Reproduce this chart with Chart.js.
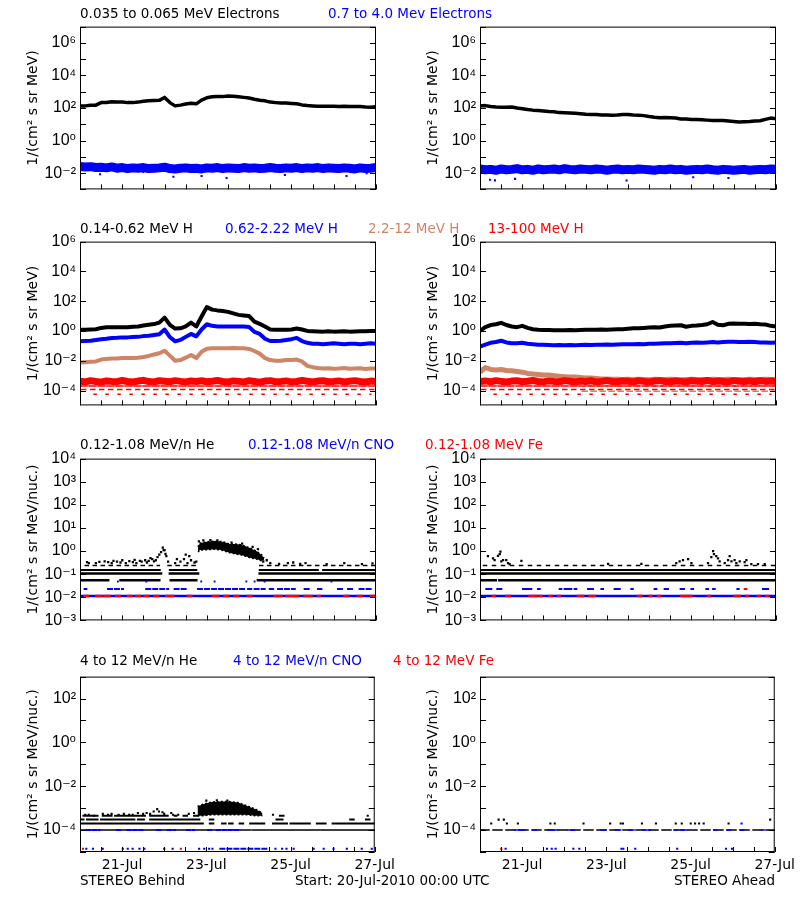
<!DOCTYPE html>
<html>
<head>
<meta charset="utf-8">
<script src="https://cdn.jsdelivr.net/npm/chart.js"></script>
<style>
html,body{margin:0;padding:0;background:#fff;}
body{width:800px;height:900px;position:relative;overflow:hidden;}
canvas.c{position:absolute;}
.t{position:absolute;white-space:pre;font-family:'DejaVu Sans',sans-serif;font-size:13.5px;line-height:15px;color:#000;}
</style>
</head>
<body>
<canvas id="r1L" class="c" width="400" height="190" style="left:0;top:13px"></canvas>
<canvas id="r1R" class="c" width="400" height="190" style="left:400px;top:13px"></canvas>
<canvas id="r2L" class="c" width="400" height="191" style="left:0;top:228px"></canvas>
<canvas id="r2R" class="c" width="400" height="191" style="left:400px;top:228px"></canvas>
<canvas id="r3L" class="c" width="400" height="189" style="left:0;top:445px"></canvas>
<canvas id="r3R" class="c" width="400" height="189" style="left:400px;top:445px"></canvas>
<canvas id="r4L" class="c" width="400" height="219" style="left:0;top:663px"></canvas>
<canvas id="r4R" class="c" width="400" height="219" style="left:400px;top:663px"></canvas>

<div class="t" style="left:80px;top:6px">0.035 to 0.065 MeV Electrons</div>
<div class="t" style="left:328px;top:6px;color:#0000ff">0.7 to 4.0 Mev Electrons</div>

<div class="t" style="left:80px;top:221px">0.14-0.62 MeV H</div>
<div class="t" style="left:225px;top:221px;color:#0000ff">0.62-2.22 MeV H</div>
<div class="t" style="left:368px;top:221px;color:#cd8566">2.2-12 MeV H</div>
<div class="t" style="left:488px;top:221px;color:#ff0000">13-100 MeV H</div>

<div class="t" style="left:80px;top:437px">0.12-1.08 MeV/n He</div>
<div class="t" style="left:248px;top:437px;color:#0000ff">0.12-1.08 MeV/n CNO</div>
<div class="t" style="left:425px;top:437px;color:#ff0000">0.12-1.08 MeV Fe</div>

<div class="t" style="left:80px;top:653px">4 to 12 MeV/n He</div>
<div class="t" style="left:233px;top:653px;color:#0000ff">4 to 12 MeV/n CNO</div>
<div class="t" style="left:393px;top:653px;color:#ff0000">4 to 12 MeV Fe</div>

<div class="t" style="left:80px;top:873px">STEREO Behind</div>
<div class="t" style="left:295px;top:873px">Start: 20-Jul-2010 00:00 UTC</div>
<div class="t" style="right:25px;top:873px">STEREO Ahead</div>

<script>
// ---------- time axis (hours since 20-Jul-2010 00:00 UTC) ----------
const hours = [0,3,6,9,12,15,18,21,24,27,30,33,36,39,42,45,48,51,54,57,60,63,66,69,72,75,78,81,84,87,90,93,96,99,102,105,108,111,114,117,120,123,126,129,132,135,138,141,144,147,150,153,156,159,162,165,168];
const xTickHours = [24,72,120,168];
const xTickLabels = ['21-Jul','23-Jul','25-Jul','27-Jul'];
const xMinorHours = [0,12,24,36,48,60,72,84,96,108,120,132,144,156,168];

// ---------- y axes ----------
const row1Range = [1e-3, 1e7];
const row1Labels = [1e-2, 1e0, 1e2, 1e4, 1e6];
const row1Marks = [1e-3,1e-2,1e-1,1e0,1e1,1e2,1e3,1e4,1e5,1e6,1e7];
const row2Range = [1e-5, 1e6];
const row2Labels = [1e-4, 1e-2, 1e0, 1e2, 1e4, 1e6];
const row2Marks = [1e-4, 1e-2, 1e0, 1e2, 1e4, 1e6];
const row3Range = [1e-3, 1e4];
const row3Labels = [1e-3,1e-2,1e-1,1e0,1e1,1e2,1e3,1e4];
const row3Marks = [1e-3,1e-2,1e-1,1e0,1e1,1e2,1e3,1e4];
const row4Range = [1e-5, 1e3];
const row4Labels = [1e-4, 1e-2, 1e0, 1e2];
const row4Marks = [1e-5,1e-4,1e-3,1e-2,1e-1,1e0,1e1,1e2,1e3];

// ---------- Row 1: electrons ----------
const behindE035 = [135,135,148,150,214,220,245,230,230,214,214,230,257,275,288,295,447,214,135,150,174,195,180,302,427,490,500,500,550,530,490,450,407,347,302,275,230,214,200,200,190,182,155,141,135,130,130,130,130,123,130,123,123,123,115,110,118];
const behindE07 = [0.026,0.024,0.025,0.022,0.023,0.021,0.024,0.02,0.022,0.019,0.021,0.02,0.022,0.019,0.02,0.021,0.023,0.019,0.018,0.02,0.021,0.019,0.02,0.018,0.021,0.02,0.022,0.019,0.021,0.02,0.019,0.022,0.02,0.021,0.019,0.02,0.022,0.02,0.019,0.021,0.02,0.022,0.019,0.021,0.02,0.022,0.019,0.021,0.02,0.019,0.021,0.02,0.018,0.021,0.019,0.02,0.022];
const behindE07Low = [[11.4,0.0085],[35.9,0.0118],[53,0.006],[69,0.0066],[83.2,0.005],[116.3,0.0077],[151.3,0.0066],[162.7,0.01]];
const aheadE035 = [135,140,123,115,110,110,115,100,91,81,74,71,65,60,58,52,51,49,47,45,41,40,40,37,37,36,37,40,40,37,36,34,30,27,25,26,25,24,21,21,20,20,19,18,17,17,17,16,15,14,14.5,15,16,16.5,20,24,22];
const aheadE07 = [0.018,0.016,0.017,0.015,0.018,0.016,0.017,0.019,0.016,0.017,0.015,0.018,0.016,0.017,0.018,0.016,0.019,0.017,0.016,0.018,0.017,0.016,0.018,0.017,0.015,0.017,0.018,0.016,0.017,0.016,0.018,0.017,0.016,0.015,0.017,0.016,0.018,0.016,0.017,0.015,0.016,0.017,0.016,0.018,0.016,0.015,0.017,0.016,0.015,0.016,0.017,0.015,0.016,0.017,0.016,0.018,0.017];
const aheadE07Low = [[5.7,0.0039],[8.5,0.0036],[19.9,0.0044],[83.2,0.0035],[121,0.0056],[141,0.005],[168,0.006]];

// ---------- Row 2: protons ----------
const behindH014 = [1.2,1.2,1.25,1.3,1.6,1.75,1.8,1.75,1.8,1.75,1.9,2.0,2.3,2.6,2.9,3.6,7.8,2.6,1.45,1.5,2.0,3.6,2.0,9.3,40,27,24,22,19,15,12,11,10,4.2,3.0,2.0,1.25,1.2,1.2,1.2,1.25,1.45,1.25,1.0,0.97,0.93,0.9,0.95,0.9,0.92,0.95,0.9,0.93,0.95,0.97,1.0,1.0];
const behindH062 = [0.2,0.21,0.22,0.25,0.28,0.3,0.34,0.35,0.37,0.37,0.39,0.4,0.45,0.47,0.53,0.6,1.25,0.39,0.2,0.25,0.4,0.63,0.43,1.25,2.8,2.2,2.0,2.0,2.0,2.0,2.0,2.0,1.85,0.87,0.63,0.3,0.21,0.21,0.22,0.25,0.28,0.34,0.21,0.16,0.14,0.14,0.13,0.14,0.15,0.14,0.13,0.14,0.14,0.13,0.14,0.15,0.14];
const behindH22 = [0.0075,0.008,0.0085,0.009,0.012,0.013,0.014,0.014,0.015,0.015,0.015,0.016,0.018,0.021,0.026,0.032,0.046,0.022,0.010,0.011,0.016,0.024,0.015,0.04,0.063,0.068,0.07,0.07,0.07,0.072,0.07,0.068,0.062,0.045,0.03,0.015,0.011,0.010,0.010,0.011,0.011,0.012,0.009,0.0045,0.0037,0.0033,0.003,0.0031,0.0029,0.003,0.0032,0.0029,0.003,0.0031,0.0028,0.003,0.003];
const behindH13 = [4.2e-4,3.8e-4,4.6e-4,4.0e-4,3.6e-4,4.4e-4,4.1e-4,3.9e-4,4.7e-4,4.0e-4,3.7e-4,4.3e-4,4.8e-4,4.0e-4,3.8e-4,4.5e-4,4.2e-4,3.9e-4,4.6e-4,4.1e-4,3.8e-4,4.3e-4,4.0e-4,4.5e-4,3.9e-4,4.2e-4,4.7e-4,4.0e-4,3.7e-4,4.4e-4,4.1e-4,3.8e-4,4.5e-4,4.0e-4,3.6e-4,4.3e-4,4.6e-4,3.9e-4,4.1e-4,4.4e-4,3.8e-4,4.0e-4,4.7e-4,4.2e-4,3.7e-4,4.3e-4,4.5e-4,3.9e-4,4.1e-4,4.4e-4,3.8e-4,4.2e-4,4.6e-4,4.0e-4,3.7e-4,4.3e-4,4.1e-4];
const aheadH014 = [1.0,1.8,2.5,2.8,3.5,2.5,2.0,1.8,2.2,1.6,1.3,1.2,1.15,1.15,1.1,1.1,1.1,1.15,1.1,1.15,1.2,1.2,1.2,1.25,1.2,1.25,1.3,1.3,1.4,1.5,1.5,1.6,1.7,1.8,1.7,2.0,2.2,2.3,2.4,1.9,2.2,2.3,2.5,2.8,4.0,2.6,2.4,3.0,3.2,3.1,3.0,2.9,3.0,2.8,2.7,2.2,2.0];
const aheadH062 = [0.09,0.12,0.16,0.18,0.22,0.17,0.15,0.15,0.16,0.14,0.13,0.12,0.12,0.115,0.11,0.115,0.11,0.115,0.11,0.115,0.12,0.115,0.12,0.12,0.125,0.12,0.125,0.13,0.13,0.13,0.135,0.13,0.14,0.14,0.145,0.15,0.15,0.155,0.16,0.15,0.16,0.17,0.16,0.17,0.18,0.17,0.18,0.19,0.19,0.18,0.18,0.19,0.18,0.17,0.17,0.16,0.17];
const aheadH22 = [0.0017,0.0035,0.0026,0.0024,0.0026,0.0022,0.0021,0.0019,0.0017,0.0014,0.0013,0.0012,0.0011,0.0011,0.001,0.0009,0.00085,0.0008,0.0008,0.00075,0.0007,0.0007,0.00065,0.0006,0.0006,0.00058,0.00056,0.00055,0.00057,0.00054,0.00056,0.00055,0.00053,0.00056,0.00055,0.00054,0.00057,0.00055,0.00053,0.00055,0.00056,0.00054,0.00055,0.00053,0.00056,0.00054,0.00055,0.00057,0.00054,0.00055,0.00053,0.00056,0.00055,0.00054,0.00056,0.00055,0.00054];
const aheadH13 = [4.0e-4,4.4e-4,3.8e-4,4.6e-4,4.1e-4,3.7e-4,4.3e-4,4.5e-4,3.9e-4,4.2e-4,4.7e-4,4.0e-4,3.8e-4,4.4e-4,4.1e-4,3.9e-4,4.6e-4,4.2e-4,3.7e-4,4.3e-4,4.0e-4,4.5e-4,3.8e-4,4.1e-4,4.6e-4,4.0e-4,3.9e-4,4.4e-4,4.2e-4,3.8e-4,4.5e-4,4.1e-4,3.7e-4,4.3e-4,4.6e-4,4.0e-4,3.9e-4,4.4e-4,4.1e-4,3.8e-4,4.5e-4,4.2e-4,4.0e-4,4.7e-4,3.9e-4,4.3e-4,4.1e-4,3.8e-4,4.6e-4,4.2e-4,4.0e-4,4.4e-4,3.9e-4,4.5e-4,4.1e-4,4.3e-4,4.0e-4];
// quantised low-count levels of the 13-100 MeV H (and 2.2-12 MeV H ahead) channels
const h13Levels = [2e-4, 1.15e-4, 5.7e-5];
const h13LevelSpans = [[0,168],[1,167],[8,165]];
const aheadH22Levels = [9e-5, 2e-4];
const aheadH22LevelSpans = [[58,168],[62,168]];

// ---------- Row 3: 0.12-1.08 MeV/n ions ----------
const loHeBehindLevels = [0.055, 0.107, 0.15, 0.24];
const loHeBehindSegs = [
  [[0,16],[23,45],[51.5,66],[101,168]],
  [[0,46],[51,67],[102,168]],
  [[1,46],[51,66],[102,135],[138,168]],
  [[3,45],[50,66],[102,168]]
];
const loHeBehindCloudHours = [67,68,72,76,80,82,85,88,91,94,97,100,103,104.5];
const loHeBehindCloudUpper = [1.5,2.2,2.5,2.7,2.6,2.4,2.0,2.0,1.9,1.6,1.3,1.0,0.7,0.5];
const loHeBehindCloudLower = [0.9,1.1,1.15,1.2,1.1,1.0,0.85,0.75,0.7,0.6,0.5,0.45,0.38,0.4];
const loHeBehindDots = [[4,0.33],[5,0.3],[9,0.3],[11,0.34],[14,0.36],[16,0.33],[18,0.3],[19,0.38],[21,0.35],[23,0.32],[24,0.4],[26,0.3],[28,0.37],[30,0.33],[31,0.42],[32,0.3],[34,0.38],[35,0.35],[37,0.4],[38,0.32],[39,0.38],[40,0.5],[41,0.45],[42,0.36],[43,0.4],[44,0.55],[45,0.7],[46,0.9],[47,1.4],[47.5,1.1],[48,1.1],[48.5,0.75],[49,0.6],[50,0.35],[54,0.3],[55,0.45],[57,0.35],[59,0.45],[60,0.7],[61,0.3],[62,0.6],[63,0.4],[65,0.32],[66,0.35],[67.5,2.6],[70,2.9],[74,3.0],[78,2.9],[86,2.3],[92,2.1],[98,1.5],[101,1.2],[104,0.35],[106,0.4],[108,0.3],[113,0.28],[118,0.3],[121,0.32],[125,0.28],[128,0.3],[140,0.27],[150,0.3],[160,0.27],[166,0.29]];
const loCnoBehindLevels = [0.0115, 0.023];
const loCnoBehindSegs = [
  [[0,168]],
  [[2.6,3.6],[15.9,24.4],[37.6,50],[53.7,61.3],[67,93.5],[95.4,97.2],[99.1,104.8],[107.7,109.6],[112.4,121.9],[127.5,131.3],[135.1,137],[146.4,150.2],[152.1,155.9],[158.7,165.4]]
];
const loCnoBehindDots = [21.5,37.6,68.8,76.4,94.4,99.1,104.8,142.7];
const loFeBehindSegs = [[2.6,4.5],[9.3,12.1],[14,16.8],[20.6,22.5],[27.2,29.1],[32,33.9],[36.7,38.6],[42.4,44.3],[49,52.8],[61.3,63.2],[75.5,78.3],[82.1,84],[87.8,89.7],[95.4,97.2],[110.5,114.3],[117.1,123.7],[127.5,131.3],[135.1,136],[150.2,152.1],[157.8,159.7],[165.4,167.3]];

const loHeAheadLevels = [0.055, 0.107, 0.15, 0.24];
const loHeAheadSegs = [
  [[0,9],[11,168]],
  [[0,168]],
  [[0,168]],
  [[2,168]]
];
const loHeAheadDots = [[4.5,0.6],[7.4,0.48],[8.3,0.41],[10.2,0.62],[11.2,0.74],[11.6,0.95],[12.1,0.36],[13.1,0.41],[14.9,0.41],[15.9,0.3],[16.8,0.27],[23.5,0.38],[72.7,0.28],[91.6,0.28],[111.4,0.3],[113.3,0.36],[115.2,0.41],[118.1,0.45],[120,0.3],[129.4,0.3],[131.3,0.55],[132.3,1.0],[132.8,0.74],[134.1,0.6],[135.1,0.48],[136,0.36],[138.9,0.3],[140.8,0.41],[141.7,0.6],[142.7,0.36],[144.5,0.41],[145.5,0.3],[147.4,0.36],[150.2,0.33],[151.2,0.41],[154,0.27],[157.8,0.27],[161.6,0.27]];
const loCnoAheadLevels = [0.0115, 0.023];
const loCnoAheadSegs = [
  [[0,168]],
  [[3.6,6.4],[9.8,12.1],[24.4,29.1],[32.9,33.9],[45.2,46.2],[48,51.8],[53.7,54.7],[61.3,64.1],[68.9,69.8],[76.4,77.2],[78.3,79.3],[85.9,86.7],[99.1,100.1],[104.8,106.7],[113.9,115.8],[120,120.9],[128.5,129.4],[132.3,133.2],[146.1,146.8],[160.6,163.5]]
];
const loFeAheadSegs = [[7.4,8.3],[14.9,16.8],[28.2,29.1],[30.1,32],[33.9,34.8],[39.5,40.5],[44.3,45.2],[55.6,56.6],[57.5,58.5],[62.2,63.2],[64.1,65.1],[89.7,91.6],[96.3,97.2],[101,102],[114.3,120],[129.4,130.4],[144.5,147.4],[151.2,152.1],[157.8,158.7],[162.5,163.5]];
const loFeAheadSegs2 = [[150.2,151.2]];

// ---------- Row 4: 4-12 MeV/n ions ----------
const hiHeBehindLevels = [1e-4, 2e-4, 3e-4, 4.5e-4];
const hiHeBehindSegs = [
  [[0,97],[98,168]],
  [[0,70],[74,76],[81,83],[85,87],[91,93],[97,105],[110,118],[120,131],[135,140],[144,168]],
  [[0,2],[4,10],[12,31],[33,37],[40,68],[74,76],[112,116],[154,156],[163,165]],
  [[2,7],[8,10],[13,18],[20,22],[23,29],[30,37],[40,42],[43,50],[54,55],[59,61],[65,67],[114,116]]
];
const hiHeBehindCloudHours = [67,70,75,80,85,90,95,100,104];
const hiHeBehindCloudUpper = [1.2e-3,1.5e-3,1.9e-3,2.0e-3,2.0e-3,1.8e-3,1.3e-3,9e-4,6e-4];
const hiHeBehindCloudLower = [4.5e-4,4.5e-4,5e-4,5e-4,5e-4,5e-4,5e-4,4.5e-4,4.5e-4];
const hiHeBehindDots = [[3,5e-4],[5,5e-4],[8,4.5e-4],[13,5.5e-4],[16,5e-4],[18,5.5e-4],[22,5e-4],[25,5.5e-4],[28,5e-4],[30,5e-4],[33,6e-4],[36,5.5e-4],[38,6e-4],[40,5.5e-4],[42,7e-4],[44,9e-4],[45,7e-4],[47,6.5e-4],[48,5.5e-4],[52,6e-4],[53,5e-4],[56,5e-4],[62,5.5e-4],[65,6e-4],[72,2.2e-3],[78,2.3e-3],[84,2.2e-3],[110,5e-4],[164,4.5e-4]];
const hiCnoBehindSegs1e4 = [[4,11],[21,23],[27,37],[44,46],[50,54],[61,65],[73,75],[78,90]];
const hiCnoBehindLowHours = [3.6,7.4,13,24.4,27.2,30,33.9,36.7,48,52.8,67.9,70.8,73.6,75.5,111.4,115.2,117.7,121.8,133.2,138.9,144.5,152.1,160.6,166.3];
const hiCnoBehindLowSegs = [[80,106.7]];
const hiFeBehindLowHours = [1.7,57.5];
const hiLowLevel = 1.4e-5;

const hiHeAheadSegs1e4 = [[0,168]];
const hiCnoAheadSegs1e4 = [[0.8,2.6],[19.7,25.4],[30.1,32],[38.6,44.3],[50,53.7],[68.9,71.7],[77.4,80.2],[85,87.8],[92.5,97.2],[110.5,112.4],[114.3,118.1],[133.2,135.1],[140.8,142.7],[148.3,150.2],[160.6,162]];
const hiHeAheadDots2e4 = [6.4,15.3,21.6,40.1,42.6,59,74.2,80.2,81.5,92.3,100.3,111.6,115,120.1,122.6,124.9,127.5,141.7];
const hiHeAheadDots3e4 = [10.6,13.6,165.4];
const hiCnoAheadDots2e4 = [149.1];
const hiCnoAheadLowHours = [14.6,38.2,40.9,43.1,53.2,56.6,80.6,81.7,88.5,112.4,140.2,143.6];
const hiFeAheadLowHours = [12.1];

// ---------- styling helpers ----------
const BLACK = '#000000', BLUE = '#0000ff', TAN = '#cd8566', RED = '#ff0000';
const SUP = {'-':'\u207B','0':'\u2070','1':'\u00B9','2':'\u00B2','3':'\u00B3','4':'\u2074','5':'\u2075','6':'\u2076','7':'\u2077','8':'\u2078','9':'\u2079'};
const expOf = v => Math.round(Math.log10(v));
const supLabel = e => '10' + String(e).split('').map(c => SUP[c]).join('');

function series(vals, color, w) {
  return {data: hours.map((h, i) => ({x: h, y: vals[i]})), borderColor: color, backgroundColor: color,
    borderWidth: w, pointRadius: 0, tension: 0, fill: false, spanGaps: false, borderJoinStyle: 'round'};
}
function level(v, segs, color, w, dash) {
  const d = [];
  segs.forEach(([a, b]) => { d.push({x: a, y: v}, {x: b, y: v}, {x: b, y: null}); });
  return {data: d, borderColor: color, backgroundColor: color, borderWidth: w, borderDash: dash || [],
    pointRadius: 0, fill: false, spanGaps: false, borderCapStyle: 'square'};
}
function dots(pairs, color, r) {
  return {data: pairs.map(([h, v]) => ({x: h, y: v})), showLine: false, pointStyle: 'rect',
    pointRadius: r, pointBorderWidth: 0, pointBackgroundColor: color, borderColor: color, backgroundColor: color};
}
// dense point cloud drawn as the area between its upper and lower envelopes
function band(hs, up, lo, color) {
  return [
    {data: hs.map((h, i) => ({x: h, y: up[i]})), borderColor: color, backgroundColor: color, borderWidth: 1.5, borderDash: [2, 2], pointRadius: 0, fill: '+1', tension: 0},
    {data: hs.map((h, i) => ({x: h, y: lo[i]})), borderColor: color, backgroundColor: color, borderWidth: 1.5, borderDash: [2, 2], pointRadius: 0, fill: false, tension: 0}
  ];
}

const framePlugin = {
  id: 'frame',
  afterDatasetsDraw(chart, args, opts) {
    const {ctx, chartArea: a, scales: {x, y}} = chart;
    ctx.save();
    ctx.strokeStyle = '#000';
    ctx.lineWidth = 1;
    ctx.strokeRect(a.left + 0.5, a.top + 0.5, a.right - a.left - 1, a.bottom - a.top - 1);
    ctx.beginPath();
    opts.marks.forEach(v => {
      const py = Math.round(y.getPixelForValue(v)) + 0.5;
      ctx.moveTo(a.left, py); ctx.lineTo(a.left + 6, py);
      ctx.moveTo(a.right, py); ctx.lineTo(a.right - 6, py);
    });
    xMinorHours.forEach(h => {
      const px = Math.round(x.getPixelForValue(h)) + 0.5;
      ctx.moveTo(px, a.bottom); ctx.lineTo(px, a.bottom - 5);
    });
    ctx.stroke();
    ctx.restore();
  }
};

function makePanel(id, range, labels, marks, title, showX, datasets) {
  const labelled = labels.map(expOf);
  return new Chart(document.getElementById(id), {
    type: 'line',
    data: {datasets},
    options: {
      responsive: false, animation: false, events: [],
      layout: {padding: {top: 10, right: 24, left: 0, bottom: 0}},
      plugins: {legend: {display: false}, tooltip: {enabled: false}, frame: {marks}},
      scales: {
        x: {
          type: 'linear', min: 0, max: 168,
          grid: {display: false, drawTicks: false}, border: {display: false},
          afterBuildTicks: s => { s.ticks = xTickHours.map(v => ({value: v})); },
          afterFit: s => { s.height = showX ? 30 : 0; },
          ticks: {display: showX, autoSkip: false, maxRotation: 0, padding: 5, color: '#000',
            font: {family: 'DejaVu Sans', size: 14},
            callback: v => { const i = xTickHours.indexOf(v); return i >= 0 ? xTickLabels[i] : ''; }}
        },
        y: {
          type: 'logarithmic', min: range[0], max: range[1],
          grid: {display: false, drawTicks: false}, border: {display: false},
          afterBuildTicks: s => { s.ticks = marks.map(v => ({value: v})); },
          afterFit: s => { s.width = 80; },
          ticks: {autoSkip: false, padding: 4, color: '#000',
            font: {family: "'Liberation Sans', 'DejaVu Sans', sans-serif", size: 16},
            callback: v => labelled.includes(expOf(v)) ? supLabel(expOf(v)) : ''},
          title: {display: true, text: title, color: '#000',
            font: {family: 'DejaVu Sans', size: 14}, padding: {top: 25, bottom: 0}}
        }
      }
    },
    plugins: [framePlugin]
  });
}

const TITLE_E = '1/(cm\u00B2 s sr MeV)';
const TITLE_N = '1/(cm\u00B2 s sr MeV/nuc.)';

// Row 1
makePanel('r1L', row1Range, row1Labels, row1Marks, TITLE_E, false, [
  series(behindE035, BLACK, 3.5),
  series(behindE07, BLUE, 9),
  dots(behindE07Low, BLUE, 1.5)
]);
makePanel('r1R', row1Range, row1Labels, row1Marks, TITLE_E, false, [
  series(aheadE035, BLACK, 3.5),
  series(aheadE07, BLUE, 9),
  dots(aheadE07Low, BLUE, 1.5)
]);

// Row 2
makePanel('r2L', row2Range, row2Labels, row2Marks, TITLE_E, false, [
  series(behindH014, BLACK, 4),
  series(behindH062, BLUE, 4),
  series(behindH22, TAN, 4),
  series(behindH13, RED, 7),
  level(h13Levels[0], [h13LevelSpans[0]], RED, 1.5, [7, 2]),
  level(h13Levels[1], [h13LevelSpans[1]], RED, 1.5, [4, 5]),
  level(h13Levels[2], [h13LevelSpans[2]], RED, 1.5, [2, 10])
]);
makePanel('r2R', row2Range, row2Labels, row2Marks, TITLE_E, false, [
  series(aheadH014, BLACK, 4),
  series(aheadH062, BLUE, 4),
  series(aheadH13, RED, 7),
  level(h13Levels[0], [h13LevelSpans[0]], RED, 1.5, [7, 2]),
  level(h13Levels[1], [h13LevelSpans[1]], RED, 1.5, [4, 5]),
  level(h13Levels[2], [h13LevelSpans[2]], RED, 1.5, [2, 10]),
  series(aheadH22, TAN, 5),
  level(aheadH22Levels[0], [aheadH22LevelSpans[0]], TAN, 1.5, [5, 4]),
  level(aheadH22Levels[1], [aheadH22LevelSpans[1]], TAN, 1.5, [2, 6])
]);

// Row 3
makePanel('r3L', row3Range, row3Labels, row3Marks, TITLE_N, false, [
  level(loCnoBehindLevels[0], loFeBehindSegs, RED, 2.5),
  level(loCnoBehindLevels[0], loCnoBehindSegs[0], BLUE, 2.5),
  level(loCnoBehindLevels[1], loCnoBehindSegs[1], BLUE, 2, [4, 3]),
  dots(loCnoBehindDots.map(h => [h, 0.048]), BLUE, 1.3),
  ...band(loHeBehindCloudHours, loHeBehindCloudUpper, loHeBehindCloudLower, BLACK),
  dots(loHeBehindDots, BLACK, 1.6),
  level(loHeBehindLevels[0], loHeBehindSegs[0], BLACK, 2.5),
  level(loHeBehindLevels[1], loHeBehindSegs[1], BLACK, 2.5),
  level(loHeBehindLevels[2], loHeBehindSegs[2], BLACK, 2, [6, 2]),
  level(loHeBehindLevels[3], loHeBehindSegs[3], BLACK, 1.5, [3, 5])
]);
makePanel('r3R', row3Range, row3Labels, row3Marks, TITLE_N, false, [
  level(loCnoAheadLevels[0], loFeAheadSegs, RED, 2.5),
  level(loCnoAheadLevels[1], loFeAheadSegs2, RED, 2),
  level(loCnoAheadLevels[0], loCnoAheadSegs[0], BLUE, 2.5),
  level(loCnoAheadLevels[1], loCnoAheadSegs[1], BLUE, 2),
  dots(loHeAheadDots, BLACK, 1.6),
  level(loHeAheadLevels[0], loHeAheadSegs[0], BLACK, 2.5),
  level(loHeAheadLevels[1], loHeAheadSegs[1], BLACK, 2.5),
  level(loHeAheadLevels[2], loHeAheadSegs[2], BLACK, 2, [6, 2]),
  level(loHeAheadLevels[3], loHeAheadSegs[3], BLACK, 1.5, [3, 6])
]);

// Row 4
makePanel('r4L', row4Range, row4Labels, row4Marks, TITLE_N, true, [
  dots(hiFeBehindLowHours.map(h => [h, hiLowLevel]), RED, 1.5),
  dots(hiCnoBehindLowHours.map(h => [h, hiLowLevel]), BLUE, 1.5),
  level(hiLowLevel, hiCnoBehindLowSegs, BLUE, 2, [4, 3]),
  level(hiHeBehindLevels[0], hiCnoBehindSegs1e4, BLUE, 2, [3, 3]),
  ...band(hiHeBehindCloudHours, hiHeBehindCloudUpper, hiHeBehindCloudLower, BLACK),
  dots(hiHeBehindDots, BLACK, 1.5),
  level(hiHeBehindLevels[0], hiHeBehindSegs[0], BLACK, 1.5),
  level(hiHeBehindLevels[1], hiHeBehindSegs[1], BLACK, 2),
  level(hiHeBehindLevels[2], hiHeBehindSegs[2], BLACK, 2, [6, 2]),
  level(hiHeBehindLevels[3], hiHeBehindSegs[3], BLACK, 2)
]);
makePanel('r4R', row4Range, row4Labels, row4Marks, TITLE_N, true, [
  dots(hiFeAheadLowHours.map(h => [h, hiLowLevel]), RED, 1.5),
  dots(hiCnoAheadLowHours.map(h => [h, hiLowLevel]), BLUE, 1.5),
  dots(hiCnoAheadDots2e4.map(h => [h, 2e-4]), BLUE, 1.5),
  level(1e-4, hiCnoAheadSegs1e4, BLUE, 1.5),
  level(1e-4, hiHeAheadSegs1e4, BLACK, 1.5, [9, 4]),
  dots(hiHeAheadDots2e4.map(h => [h, 2e-4]), BLACK, 1.5),
  dots(hiHeAheadDots3e4.map(h => [h, 3e-4]), BLACK, 1.5)
]);
</script>
</body>
</html>
